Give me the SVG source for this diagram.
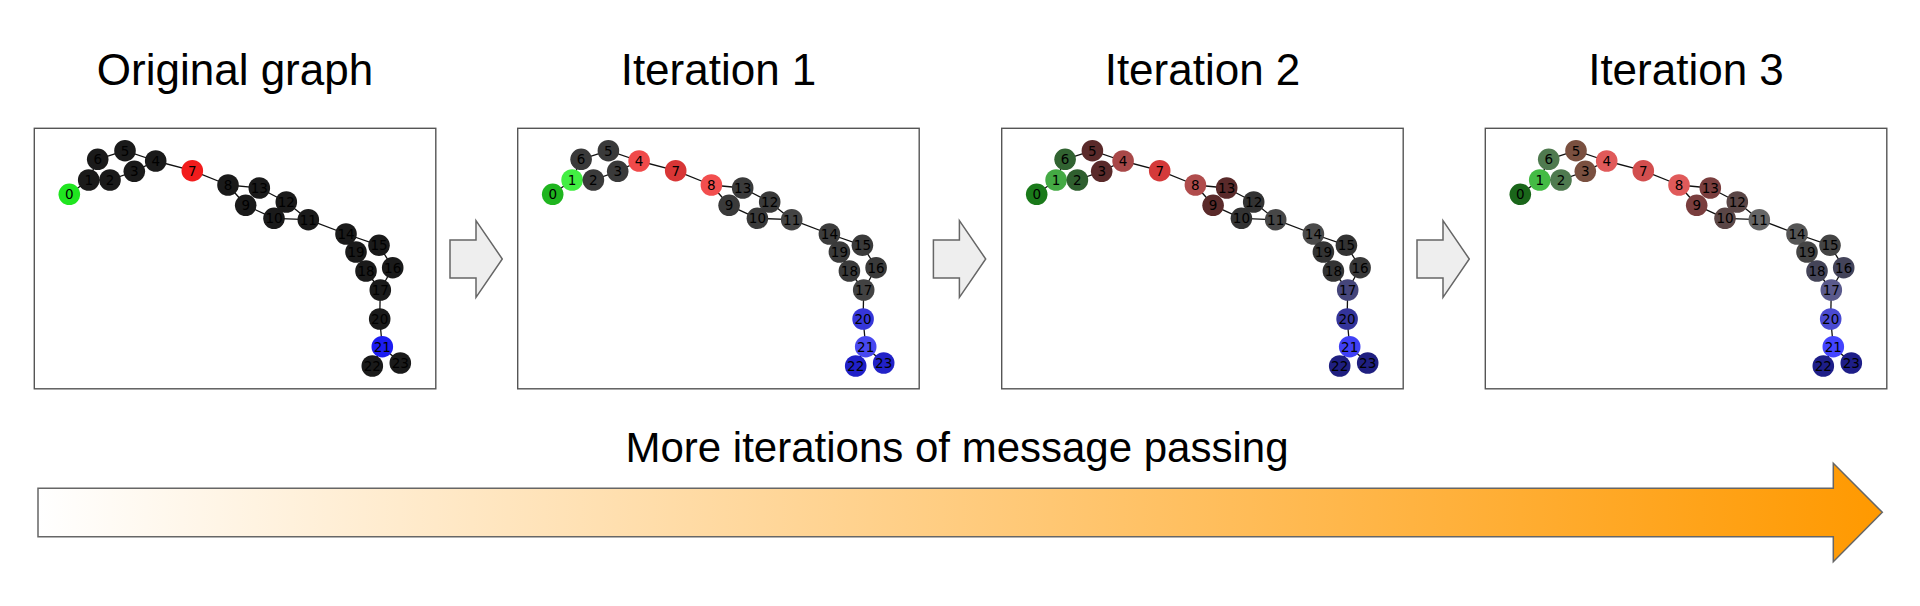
<svg xmlns="http://www.w3.org/2000/svg" xmlns:xlink="http://www.w3.org/1999/xlink" width="1920" height="606" viewBox="0 0 1920 606">
<style>
.title{font-family:"Liberation Sans",Arial,sans-serif;font-size:44px;fill:#000;text-anchor:middle}
.caption{font-family:"Liberation Sans",Arial,sans-serif;font-size:42px;fill:#000;text-anchor:middle}
.frame{fill:#fff;stroke:#555;stroke-width:1.4}
.edge{stroke:#111;stroke-width:1.3;fill:none}
.node circle{stroke:none}
.node text{font-family:"DejaVu Sans",sans-serif;font-size:13.5px;fill:#000;text-anchor:middle}
.step{fill:#eeeeee;stroke:#666;stroke-width:1.5}
.big{fill:url(#grad);stroke:#666;stroke-width:1.5}
</style>
<defs>
<linearGradient id="grad" x1="38" y1="0" x2="1882" y2="0" gradientUnits="userSpaceOnUse">
<stop offset="0" stop-color="#ffffff"/>
<stop offset="1" stop-color="#ff9900"/>
</linearGradient>
<g id="edges">
<line class="edge" x1="35" y1="66" x2="54.4" y2="51.7"/>
<line class="edge" x1="54.4" y1="51.7" x2="75.7" y2="51.7"/>
<line class="edge" x1="75.7" y1="51.7" x2="100" y2="43"/>
<line class="edge" x1="100" y1="43" x2="121.4" y2="32.7"/>
<line class="edge" x1="121.4" y1="32.7" x2="90.7" y2="22.4"/>
<line class="edge" x1="90.7" y1="22.4" x2="63.4" y2="31"/>
<line class="edge" x1="63.4" y1="31" x2="54.4" y2="51.7"/>
<line class="edge" x1="121.4" y1="32.7" x2="158" y2="42.4"/>
<line class="edge" x1="158" y1="42.4" x2="193.7" y2="56.7"/>
<line class="edge" x1="193.7" y1="56.7" x2="211.4" y2="77"/>
<line class="edge" x1="211.4" y1="77" x2="239.7" y2="90"/>
<line class="edge" x1="239.7" y1="90" x2="274" y2="91.4"/>
<line class="edge" x1="274" y1="91.4" x2="252" y2="73.7"/>
<line class="edge" x1="252" y1="73.7" x2="225" y2="59.7"/>
<line class="edge" x1="225" y1="59.7" x2="193.7" y2="56.7"/>
<line class="edge" x1="274" y1="91.4" x2="311.7" y2="105.7"/>
<line class="edge" x1="311.7" y1="105.7" x2="344.7" y2="117"/>
<line class="edge" x1="344.7" y1="117" x2="358.4" y2="139.4"/>
<line class="edge" x1="358.4" y1="139.4" x2="346" y2="161.7"/>
<line class="edge" x1="346" y1="161.7" x2="331.7" y2="142.7"/>
<line class="edge" x1="331.7" y1="142.7" x2="321.7" y2="123.7"/>
<line class="edge" x1="321.7" y1="123.7" x2="311.7" y2="105.7"/>
<line class="edge" x1="346" y1="161.7" x2="345.4" y2="190.7"/>
<line class="edge" x1="345.4" y1="190.7" x2="348" y2="218.4"/>
<line class="edge" x1="348" y1="218.4" x2="338" y2="237.7"/>
<line class="edge" x1="348" y1="218.4" x2="366" y2="234.7"/>
</g>
</defs>

<text class="title" x="235" y="85">Original graph</text>
<text class="title" x="718.5" y="85">Iteration 1</text>
<text class="title" x="1202.5" y="85">Iteration 2</text>
<text class="title" x="1686" y="85">Iteration 3</text>

<g id="panel1" transform="translate(34.3,128.3)">
<rect class="frame" x="0" y="0" width="401.5" height="260.5"/>
<g id="connectors1"><use xlink:href="#edges"/></g>
<g id="p1-n0" class="node"><circle cx="35" cy="66" r="10.8" fill="#20e520"/><text x="35" y="71">0</text></g>
<g id="p1-n1" class="node"><circle cx="54.4" cy="51.7" r="10.8" fill="#1a1a1a"/><text x="54.4" y="56.7">1</text></g>
<g id="p1-n2" class="node"><circle cx="75.7" cy="51.7" r="10.8" fill="#1a1a1a"/><text x="75.7" y="56.7">2</text></g>
<g id="p1-n3" class="node"><circle cx="100" cy="43" r="10.8" fill="#1a1a1a"/><text x="100" y="48">3</text></g>
<g id="p1-n4" class="node"><circle cx="121.4" cy="32.7" r="10.8" fill="#1a1a1a"/><text x="121.4" y="37.7">4</text></g>
<g id="p1-n5" class="node"><circle cx="90.7" cy="22.4" r="10.8" fill="#1a1a1a"/><text x="90.7" y="27.4">5</text></g>
<g id="p1-n6" class="node"><circle cx="63.4" cy="31" r="10.8" fill="#1a1a1a"/><text x="63.4" y="36">6</text></g>
<g id="p1-n7" class="node"><circle cx="158" cy="42.4" r="10.8" fill="#f21c1c"/><text x="158" y="47.4">7</text></g>
<g id="p1-n8" class="node"><circle cx="193.7" cy="56.7" r="10.8" fill="#1a1a1a"/><text x="193.7" y="61.7">8</text></g>
<g id="p1-n9" class="node"><circle cx="211.4" cy="77" r="10.8" fill="#1a1a1a"/><text x="211.4" y="82">9</text></g>
<g id="p1-n10" class="node"><circle cx="239.7" cy="90" r="10.8" fill="#1a1a1a"/><text x="239.7" y="95">10</text></g>
<g id="p1-n11" class="node"><circle cx="274" cy="91.4" r="10.8" fill="#1a1a1a"/><text x="274" y="96.4">11</text></g>
<g id="p1-n12" class="node"><circle cx="252" cy="73.7" r="10.8" fill="#1a1a1a"/><text x="252" y="78.7">12</text></g>
<g id="p1-n13" class="node"><circle cx="225" cy="59.7" r="10.8" fill="#1a1a1a"/><text x="225" y="64.7">13</text></g>
<g id="p1-n14" class="node"><circle cx="311.7" cy="105.7" r="10.8" fill="#1a1a1a"/><text x="311.7" y="110.7">14</text></g>
<g id="p1-n15" class="node"><circle cx="344.7" cy="117" r="10.8" fill="#1a1a1a"/><text x="344.7" y="122">15</text></g>
<g id="p1-n16" class="node"><circle cx="358.4" cy="139.4" r="10.8" fill="#1a1a1a"/><text x="358.4" y="144.4">16</text></g>
<g id="p1-n17" class="node"><circle cx="346" cy="161.7" r="10.8" fill="#1a1a1a"/><text x="346" y="166.7">17</text></g>
<g id="p1-n18" class="node"><circle cx="331.7" cy="142.7" r="10.8" fill="#1a1a1a"/><text x="331.7" y="147.7">18</text></g>
<g id="p1-n19" class="node"><circle cx="321.7" cy="123.7" r="10.8" fill="#1a1a1a"/><text x="321.7" y="128.7">19</text></g>
<g id="p1-n20" class="node"><circle cx="345.4" cy="190.7" r="10.8" fill="#1a1a1a"/><text x="345.4" y="195.7">20</text></g>
<g id="p1-n21" class="node"><circle cx="348" cy="218.4" r="10.8" fill="#1c1cf2"/><text x="348" y="223.4">21</text></g>
<g id="p1-n22" class="node"><circle cx="338" cy="237.7" r="10.8" fill="#1a1a1a"/><text x="338" y="242.7">22</text></g>
<g id="p1-n23" class="node"><circle cx="366" cy="234.7" r="10.8" fill="#1a1a1a"/><text x="366" y="239.7">23</text></g>
</g>

<g id="panel2" transform="translate(517.7,128.3)">
<rect class="frame" x="0" y="0" width="401.5" height="260.5"/>
<g id="connectors2"><use xlink:href="#edges"/></g>
<g id="p2-n0" class="node"><circle cx="35" cy="66" r="10.8" fill="#1fb51f"/><text x="35" y="71">0</text></g>
<g id="p2-n1" class="node"><circle cx="54.4" cy="51.7" r="10.8" fill="#42ee42"/><text x="54.4" y="56.7">1</text></g>
<g id="p2-n2" class="node"><circle cx="75.7" cy="51.7" r="10.8" fill="#3a3a3a"/><text x="75.7" y="56.7">2</text></g>
<g id="p2-n3" class="node"><circle cx="100" cy="43" r="10.8" fill="#3a3a3a"/><text x="100" y="48">3</text></g>
<g id="p2-n4" class="node"><circle cx="121.4" cy="32.7" r="10.8" fill="#f04a4a"/><text x="121.4" y="37.7">4</text></g>
<g id="p2-n5" class="node"><circle cx="90.7" cy="22.4" r="10.8" fill="#3a3a3a"/><text x="90.7" y="27.4">5</text></g>
<g id="p2-n6" class="node"><circle cx="63.4" cy="31" r="10.8" fill="#3a3a3a"/><text x="63.4" y="36">6</text></g>
<g id="p2-n7" class="node"><circle cx="158" cy="42.4" r="10.8" fill="#d83636"/><text x="158" y="47.4">7</text></g>
<g id="p2-n8" class="node"><circle cx="193.7" cy="56.7" r="10.8" fill="#f24e4e"/><text x="193.7" y="61.7">8</text></g>
<g id="p2-n9" class="node"><circle cx="211.4" cy="77" r="10.8" fill="#3a3a3a"/><text x="211.4" y="82">9</text></g>
<g id="p2-n10" class="node"><circle cx="239.7" cy="90" r="10.8" fill="#3a3a3a"/><text x="239.7" y="95">10</text></g>
<g id="p2-n11" class="node"><circle cx="274" cy="91.4" r="10.8" fill="#444444"/><text x="274" y="96.4">11</text></g>
<g id="p2-n12" class="node"><circle cx="252" cy="73.7" r="10.8" fill="#3a3a3a"/><text x="252" y="78.7">12</text></g>
<g id="p2-n13" class="node"><circle cx="225" cy="59.7" r="10.8" fill="#3a3a3a"/><text x="225" y="64.7">13</text></g>
<g id="p2-n14" class="node"><circle cx="311.7" cy="105.7" r="10.8" fill="#3c3c3c"/><text x="311.7" y="110.7">14</text></g>
<g id="p2-n15" class="node"><circle cx="344.7" cy="117" r="10.8" fill="#3a3a3a"/><text x="344.7" y="122">15</text></g>
<g id="p2-n16" class="node"><circle cx="358.4" cy="139.4" r="10.8" fill="#3a3a3a"/><text x="358.4" y="144.4">16</text></g>
<g id="p2-n17" class="node"><circle cx="346" cy="161.7" r="10.8" fill="#424242"/><text x="346" y="166.7">17</text></g>
<g id="p2-n18" class="node"><circle cx="331.7" cy="142.7" r="10.8" fill="#3a3a3a"/><text x="331.7" y="147.7">18</text></g>
<g id="p2-n19" class="node"><circle cx="321.7" cy="123.7" r="10.8" fill="#3a3a3a"/><text x="321.7" y="128.7">19</text></g>
<g id="p2-n20" class="node"><circle cx="345.4" cy="190.7" r="10.8" fill="#3636d8"/><text x="345.4" y="195.7">20</text></g>
<g id="p2-n21" class="node"><circle cx="348" cy="218.4" r="10.8" fill="#4848f0"/><text x="348" y="223.4">21</text></g>
<g id="p2-n22" class="node"><circle cx="338" cy="237.7" r="10.8" fill="#2020c8"/><text x="338" y="242.7">22</text></g>
<g id="p2-n23" class="node"><circle cx="366" cy="234.7" r="10.8" fill="#2222c8"/><text x="366" y="239.7">23</text></g>
</g>

<g id="panel3" transform="translate(1001.7,128.3)">
<rect class="frame" x="0" y="0" width="401.5" height="260.5"/>
<g id="connectors3"><use xlink:href="#edges"/></g>
<g id="p3-n0" class="node"><circle cx="35" cy="66" r="10.8" fill="#1a7a1a"/><text x="35" y="71">0</text></g>
<g id="p3-n1" class="node"><circle cx="54.4" cy="51.7" r="10.8" fill="#44aa44"/><text x="54.4" y="56.7">1</text></g>
<g id="p3-n2" class="node"><circle cx="75.7" cy="51.7" r="10.8" fill="#2f5f2f"/><text x="75.7" y="56.7">2</text></g>
<g id="p3-n3" class="node"><circle cx="100" cy="43" r="10.8" fill="#5a2a2a"/><text x="100" y="48">3</text></g>
<g id="p3-n4" class="node"><circle cx="121.4" cy="32.7" r="10.8" fill="#a84848"/><text x="121.4" y="37.7">4</text></g>
<g id="p3-n5" class="node"><circle cx="90.7" cy="22.4" r="10.8" fill="#5a2a2a"/><text x="90.7" y="27.4">5</text></g>
<g id="p3-n6" class="node"><circle cx="63.4" cy="31" r="10.8" fill="#316331"/><text x="63.4" y="36">6</text></g>
<g id="p3-n7" class="node"><circle cx="158" cy="42.4" r="10.8" fill="#d43a3a"/><text x="158" y="47.4">7</text></g>
<g id="p3-n8" class="node"><circle cx="193.7" cy="56.7" r="10.8" fill="#b04c4c"/><text x="193.7" y="61.7">8</text></g>
<g id="p3-n9" class="node"><circle cx="211.4" cy="77" r="10.8" fill="#5a2a2a"/><text x="211.4" y="82">9</text></g>
<g id="p3-n10" class="node"><circle cx="239.7" cy="90" r="10.8" fill="#333333"/><text x="239.7" y="95">10</text></g>
<g id="p3-n11" class="node"><circle cx="274" cy="91.4" r="10.8" fill="#474747"/><text x="274" y="96.4">11</text></g>
<g id="p3-n12" class="node"><circle cx="252" cy="73.7" r="10.8" fill="#333333"/><text x="252" y="78.7">12</text></g>
<g id="p3-n13" class="node"><circle cx="225" cy="59.7" r="10.8" fill="#5a2a2a"/><text x="225" y="64.7">13</text></g>
<g id="p3-n14" class="node"><circle cx="311.7" cy="105.7" r="10.8" fill="#4a4a4a"/><text x="311.7" y="110.7">14</text></g>
<g id="p3-n15" class="node"><circle cx="344.7" cy="117" r="10.8" fill="#333333"/><text x="344.7" y="122">15</text></g>
<g id="p3-n16" class="node"><circle cx="358.4" cy="139.4" r="10.8" fill="#383838"/><text x="358.4" y="144.4">16</text></g>
<g id="p3-n17" class="node"><circle cx="346" cy="161.7" r="10.8" fill="#45457a"/><text x="346" y="166.7">17</text></g>
<g id="p3-n18" class="node"><circle cx="331.7" cy="142.7" r="10.8" fill="#333333"/><text x="331.7" y="147.7">18</text></g>
<g id="p3-n19" class="node"><circle cx="321.7" cy="123.7" r="10.8" fill="#333333"/><text x="321.7" y="128.7">19</text></g>
<g id="p3-n20" class="node"><circle cx="345.4" cy="190.7" r="10.8" fill="#34349a"/><text x="345.4" y="195.7">20</text></g>
<g id="p3-n21" class="node"><circle cx="348" cy="218.4" r="10.8" fill="#4040f5"/><text x="348" y="223.4">21</text></g>
<g id="p3-n22" class="node"><circle cx="338" cy="237.7" r="10.8" fill="#1f1f80"/><text x="338" y="242.7">22</text></g>
<g id="p3-n23" class="node"><circle cx="366" cy="234.7" r="10.8" fill="#1f1f80"/><text x="366" y="239.7">23</text></g>
</g>

<g id="panel4" transform="translate(1485.3,128.3)">
<rect class="frame" x="0" y="0" width="401.5" height="260.5"/>
<g id="connectors4"><use xlink:href="#edges"/></g>
<g id="p4-n0" class="node"><circle cx="35" cy="66" r="10.8" fill="#1a661a"/><text x="35" y="71">0</text></g>
<g id="p4-n1" class="node"><circle cx="54.4" cy="51.7" r="10.8" fill="#44bb44"/><text x="54.4" y="56.7">1</text></g>
<g id="p4-n2" class="node"><circle cx="75.7" cy="51.7" r="10.8" fill="#4f7a4f"/><text x="75.7" y="56.7">2</text></g>
<g id="p4-n3" class="node"><circle cx="100" cy="43" r="10.8" fill="#7a5040"/><text x="100" y="48">3</text></g>
<g id="p4-n4" class="node"><circle cx="121.4" cy="32.7" r="10.8" fill="#e05a5a"/><text x="121.4" y="37.7">4</text></g>
<g id="p4-n5" class="node"><circle cx="90.7" cy="22.4" r="10.8" fill="#7a5040"/><text x="90.7" y="27.4">5</text></g>
<g id="p4-n6" class="node"><circle cx="63.4" cy="31" r="10.8" fill="#4f7a4f"/><text x="63.4" y="36">6</text></g>
<g id="p4-n7" class="node"><circle cx="158" cy="42.4" r="10.8" fill="#d24e4e"/><text x="158" y="47.4">7</text></g>
<g id="p4-n8" class="node"><circle cx="193.7" cy="56.7" r="10.8" fill="#e05a5a"/><text x="193.7" y="61.7">8</text></g>
<g id="p4-n9" class="node"><circle cx="211.4" cy="77" r="10.8" fill="#7a3e3e"/><text x="211.4" y="82">9</text></g>
<g id="p4-n10" class="node"><circle cx="239.7" cy="90" r="10.8" fill="#5a4646"/><text x="239.7" y="95">10</text></g>
<g id="p4-n11" class="node"><circle cx="274" cy="91.4" r="10.8" fill="#666666"/><text x="274" y="96.4">11</text></g>
<g id="p4-n12" class="node"><circle cx="252" cy="73.7" r="10.8" fill="#5a4646"/><text x="252" y="78.7">12</text></g>
<g id="p4-n13" class="node"><circle cx="225" cy="59.7" r="10.8" fill="#7a3e3e"/><text x="225" y="64.7">13</text></g>
<g id="p4-n14" class="node"><circle cx="311.7" cy="105.7" r="10.8" fill="#555555"/><text x="311.7" y="110.7">14</text></g>
<g id="p4-n15" class="node"><circle cx="344.7" cy="117" r="10.8" fill="#444444"/><text x="344.7" y="122">15</text></g>
<g id="p4-n16" class="node"><circle cx="358.4" cy="139.4" r="10.8" fill="#44445a"/><text x="358.4" y="144.4">16</text></g>
<g id="p4-n17" class="node"><circle cx="346" cy="161.7" r="10.8" fill="#5a5a8c"/><text x="346" y="166.7">17</text></g>
<g id="p4-n18" class="node"><circle cx="331.7" cy="142.7" r="10.8" fill="#444458"/><text x="331.7" y="147.7">18</text></g>
<g id="p4-n19" class="node"><circle cx="321.7" cy="123.7" r="10.8" fill="#444444"/><text x="321.7" y="128.7">19</text></g>
<g id="p4-n20" class="node"><circle cx="345.4" cy="190.7" r="10.8" fill="#4a4ad2"/><text x="345.4" y="195.7">20</text></g>
<g id="p4-n21" class="node"><circle cx="348" cy="218.4" r="10.8" fill="#4444ff"/><text x="348" y="223.4">21</text></g>
<g id="p4-n22" class="node"><circle cx="338" cy="237.7" r="10.8" fill="#1e1e88"/><text x="338" y="242.7">22</text></g>
<g id="p4-n23" class="node"><circle cx="366" cy="234.7" r="10.8" fill="#1e1e88"/><text x="366" y="239.7">23</text></g>
</g>

<g id="step-arrows">
<polygon class="step" points="450,240 476,240 476,220.7 502.3,259 476,297.3 476,278 450,278"/>
<polygon class="step" points="933.4,240 959.4,240 959.4,220.7 985.7,259 959.4,297.3 959.4,278 933.4,278"/>
<polygon class="step" points="1417,240 1443,240 1443,220.7 1469.3,259 1443,297.3 1443,278 1417,278"/>
</g>

<g id="progress-arrow">
<polygon class="big" points="38,488.3 1833.3,488.3 1833.3,463.3 1882.3,512.3 1833.3,561.7 1833.3,536.7 38,536.7"/>
<text class="caption" x="957" y="462">More iterations of message passing</text>
</g>
</svg>
